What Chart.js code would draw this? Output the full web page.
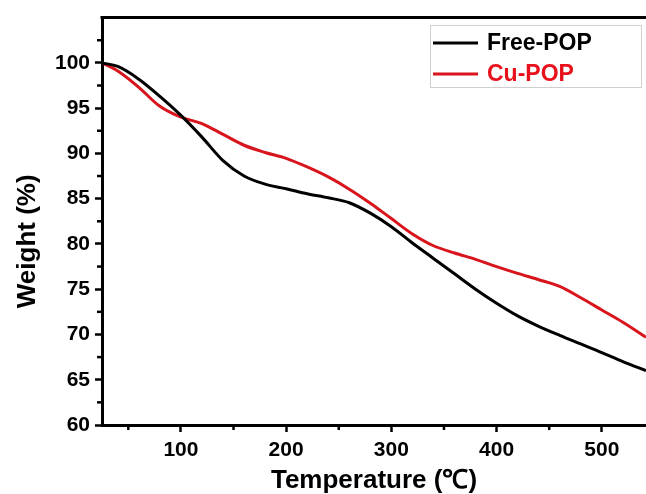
<!DOCTYPE html>
<html>
<head>
<meta charset="utf-8">
<script src="https://cdn.jsdelivr.net/npm/chart.js@4/dist/chart.umd.min.js"></script>
<style>
    html, body { margin: 0; padding: 0; background: #fff; }
    #wrap { width: 646px; height: 494px; }
</style>
</head>
<body>
<div id="wrap"><canvas id="tga-chart"></canvas></div>
<script>
        // temperatures (°C)
        const temps = [25, 40, 60, 80, 100, 120, 140, 160, 180, 200, 220, 240, 260, 280, 300,
                       320, 340, 360, 380, 400, 420, 440, 460, 480, 500, 520, 542];
        const freePop = [100, 99.6, 98.2, 96.3, 94.2, 91.8, 89.2, 87.5, 86.6, 86.1, 85.55, 85.1, 84.55, 83.4, 81.9,
                         80.1, 78.4, 76.7, 75.0, 73.45, 72.05, 70.9, 69.9, 68.95, 68.0, 67.0, 66.0];
        const cuPop = [100, 99.1, 97.3, 95.2, 94.0, 93.3, 92.1, 90.9, 90.1, 89.45, 88.5, 87.4, 86.05, 84.5, 82.8,
                       81.1, 79.8, 79.0, 78.3, 77.5, 76.75, 76.05, 75.3, 74.05, 72.7, 71.35, 69.7];

        const seriesNames = ['Free-POP', 'Cu-POP'];
        const yTitle = 'Weight (%)';
        const xTicks = [100, 200, 300, 400, 500];
        const xMinorTicks = [50, 150, 250, 350, 450];
        const yTicks = [60, 65, 70, 75, 80, 85, 90, 95, 100];
        const yMinorTicks = [62.5, 67.5, 72.5, 77.5, 82.5, 87.5, 92.5, 97.5, 102.5];

        const FONT = '"Liberation Sans", Arial, sans-serif';

        // frame top line, minor ticks, y title and the boxed legend
        const extrasPlugin = {
            id: 'extras',
            afterDraw(chart) {
                const ctx = chart.ctx;
                const area = chart.chartArea;
                const xs = chart.scales.x;
                const ys = chart.scales.y;
                ctx.save();
                ctx.strokeStyle = '#000';
                ctx.lineWidth = 3;
                ctx.beginPath();
                ctx.moveTo(area.left - 1.5, area.top);
                ctx.lineTo(area.right, area.top);
                ctx.stroke();

                ctx.lineWidth = 2.5;
                yMinorTicks.forEach(v => {
                    const y = ys.getPixelForValue(v);
                    ctx.beginPath();
                    ctx.moveTo(area.left - 5, y);
                    ctx.lineTo(area.left, y);
                    ctx.stroke();
                });
                xMinorTicks.forEach(v => {
                    const x = xs.getPixelForValue(v);
                    ctx.beginPath();
                    ctx.moveTo(x, area.bottom);
                    ctx.lineTo(x, area.bottom + 5);
                    ctx.stroke();
                });

                // y title sits a bit below the axis middle in the original
                ctx.save();
                ctx.translate(28, (area.top + area.bottom) / 2 + 20);
                ctx.rotate(-Math.PI / 2);
                ctx.fillStyle = '#000';
                ctx.font = 'bold 26px ' + FONT;
                ctx.textAlign = 'center';
                ctx.textBaseline = 'middle';
                ctx.fillText(yTitle, 0, 0);
                ctx.restore();

                // legend
                ctx.lineWidth = 1;
                ctx.strokeStyle = '#cfcfcf';
                ctx.strokeRect(430.5, 25.5, 211, 62);
                const rows = [43, 74];
                const textColors = ['#000', '#e8101a'];
                chart.data.datasets.forEach((ds, i) => {
                    ctx.strokeStyle = ds.borderColor;
                    ctx.lineWidth = 3;
                    ctx.beginPath();
                    ctx.moveTo(433, rows[i]);
                    ctx.lineTo(478, rows[i]);
                    ctx.stroke();
                    ctx.fillStyle = textColors[i];
                    ctx.font = 'bold 23px ' + FONT;
                    ctx.textBaseline = 'middle';
                    ctx.textAlign = 'left';
                    ctx.fillText(ds.label, 487, rows[i] + 1);
                });
                ctx.restore();
            }
        };

        const ctx = document.getElementById('tga-chart').getContext('2d');
        new Chart(ctx, {
            type: 'line',
            data: {
                datasets: [{
                    label: seriesNames[0],
                    data: temps.map((t, i) => ({ x: t, y: freePop[i] })),
                    borderColor: '#000000',
                    borderWidth: 3,
                    pointRadius: 0,
                    cubicInterpolationMode: 'monotone',
                    fill: false
                }, {
                    label: seriesNames[1],
                    data: temps.map((t, i) => ({ x: t, y: cuPop[i] })),
                    borderColor: '#d8141c',
                    borderWidth: 3,
                    pointRadius: 0,
                    cubicInterpolationMode: 'monotone',
                    fill: false
                }]
            },
            options: {
                responsive: true,
                maintainAspectRatio: false,
                animation: false,
                layout: { padding: { top: 16, right: 0, left: 0, bottom: 0 } },
                plugins: {
                    legend: { display: false },
                    tooltip: { enabled: false }
                },
                scales: {
                    x: {
                        type: 'linear',
                        min: 25,
                        max: 542,
                        afterBuildTicks: scale => { scale.ticks = xTicks.map(v => ({ value: v })); },
                        afterFit: scale => { scale.height = 69; },
                        border: { display: true, color: '#000', width: 3 },
                        grid: { drawOnChartArea: false, drawTicks: true, tickLength: 7, tickWidth: 2.5, tickColor: '#000' },
                        ticks: {
                            color: '#000',
                            padding: 6,
                            maxRotation: 0,
                            font: { family: FONT, size: 21, weight: 'bold' }
                        },
                        title: {
                            display: true,
                            text: 'Temperature (℃)',
                            color: '#000',
                            padding: { top: 0, bottom: 0 },
                            font: { family: FONT, size: 26, weight: 'bold', lineHeight: 1 }
                        }
                    },
                    y: {
                        min: 60,
                        max: 105,
                        afterBuildTicks: scale => { scale.ticks = yTicks.map(v => ({ value: v })); },
                        afterFit: scale => { scale.width = 102; },
                        border: { display: true, color: '#000', width: 3 },
                        grid: { drawOnChartArea: false, drawTicks: true, tickLength: 7, tickWidth: 2.5, tickColor: '#000' },
                        ticks: {
                            color: '#000',
                            padding: 5,
                            font: { family: FONT, size: 21, weight: 'bold' }
                        },
                        title: { display: false }
                    }
                }
            },
            plugins: [extrasPlugin]
        });
</script>
</body>
</html>
